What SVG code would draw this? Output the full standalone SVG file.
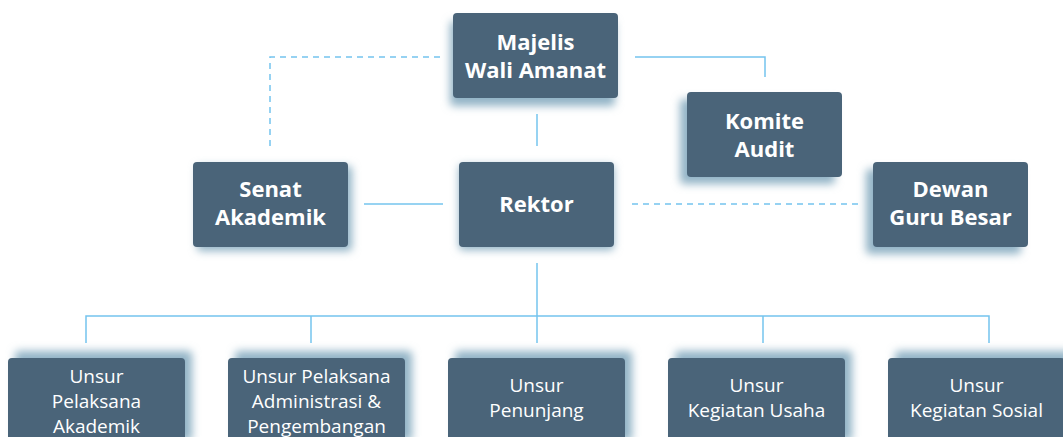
<svg xmlns="http://www.w3.org/2000/svg" width="1063" height="437" viewBox="0 0 1063 437">
<style>
.box{fill:#4a6479}
.sh{fill:#92b3c6;filter:url(#blur)}
.tb{font-family:"Open Sans","Noto Sans",sans-serif;font-weight:bold;font-size:22px;fill:#ffffff;text-anchor:middle}
.tr{font-family:"Open Sans","Noto Sans",sans-serif;font-size:19px;fill:#ffffff;text-anchor:middle}
.ln{stroke:#74c4ee;stroke-width:1.5;fill:none}
.dash{stroke-dasharray:6 5}
</style>
<defs>
<filter id="blur" x="-20%" y="-30%" width="140%" height="160%"><feGaussianBlur stdDeviation="4"/></filter>
</defs>
<rect width="1063" height="437" fill="#ffffff"/>
<g id="connectors">
<path class="ln dash" d="M440 57 H270 V146"/>
<path class="ln" d="M635 57 H765 V77"/>
<path class="ln" d="M537 114 V146"/>
<path class="ln" d="M364 204 H443"/>
<path class="ln dash" d="M632 204 H858"/>
<path class="ln" d="M537 263 V316"/>
<path class="ln" d="M86 343 V316 H989 V343"/>
<path class="ln" d="M311 316 V343"/>
<path class="ln" d="M537 316 V343"/>
<path class="ln" d="M763 316 V343"/>
</g>
<g id="majelis">
<rect class="sh" x="450" y="21" width="165" height="85" rx="4"/>
<rect class="box" x="453" y="13" width="165" height="85" rx="4"/>
<text class="tb" x="535.5" y="50">Majelis</text>
<text class="tb" x="535.5" y="78">Wali Amanat</text>
</g>
<g id="senat">
<rect class="sh" x="197" y="166" width="155" height="85" rx="4"/>
<rect class="box" x="193" y="162" width="155" height="85" rx="4"/>
<text class="tb" x="270.5" y="197">Senat</text>
<text class="tb" x="270.5" y="225">Akademik</text>
</g>
<g id="rektor">
<rect class="sh" x="459" y="165" width="155" height="85" rx="4"/>
<rect class="box" x="459" y="162" width="155" height="85" rx="4"/>
<text class="tb" x="536.5" y="212">Rektor</text>
</g>
<g id="komite">
<rect class="sh" x="680" y="99" width="155" height="85" rx="4"/>
<rect class="box" x="687" y="92" width="155" height="85" rx="4"/>
<text class="tb" x="764.5" y="129">Komite</text>
<text class="tb" x="764.5" y="157">Audit</text>
</g>
<g id="dewan">
<rect class="sh" x="866" y="169" width="155" height="85" rx="4"/>
<rect class="box" x="873" y="162" width="155" height="85" rx="4"/>
<text class="tb" x="950.5" y="197">Dewan</text>
<text class="tb" x="950.5" y="225">Guru Besar</text>
</g>
<g id="unsur-akademik">
<rect class="sh" x="15" y="351" width="177" height="90" rx="4"/>
<rect class="box" x="8" y="358" width="177" height="90" rx="4"/>
<text class="tr" x="96.5" y="383">Unsur</text>
<text class="tr" x="96.5" y="408">Pelaksana</text>
<text class="tr" x="96.5" y="433">Akademik</text>
</g>
<g id="unsur-administrasi">
<rect class="sh" x="235" y="351" width="177" height="90" rx="4"/>
<rect class="box" x="228" y="358" width="177" height="90" rx="4"/>
<text class="tr" x="316.5" y="383">Unsur Pelaksana</text>
<text class="tr" x="316.5" y="408">Administrasi &amp;</text>
<text class="tr" x="316.5" y="433">Pengembangan</text>
</g>
<g id="unsur-penunjang">
<rect class="sh" x="455" y="351" width="177" height="90" rx="4"/>
<rect class="box" x="448" y="358" width="177" height="90" rx="4"/>
<text class="tr" x="536.5" y="392">Unsur</text>
<text class="tr" x="536.5" y="417">Penunjang</text>
</g>
<g id="unsur-usaha">
<rect class="sh" x="675" y="351" width="177" height="90" rx="4"/>
<rect class="box" x="668" y="358" width="177" height="90" rx="4"/>
<text class="tr" x="756.5" y="392">Unsur</text>
<text class="tr" x="756.5" y="417">Kegiatan Usaha</text>
</g>
<g id="unsur-sosial">
<rect class="sh" x="895" y="351" width="177" height="90" rx="4"/>
<rect class="box" x="888" y="358" width="177" height="90" rx="4"/>
<text class="tr" x="976.5" y="392">Unsur</text>
<text class="tr" x="976.5" y="417">Kegiatan Sosial</text>
</g>
</svg>
